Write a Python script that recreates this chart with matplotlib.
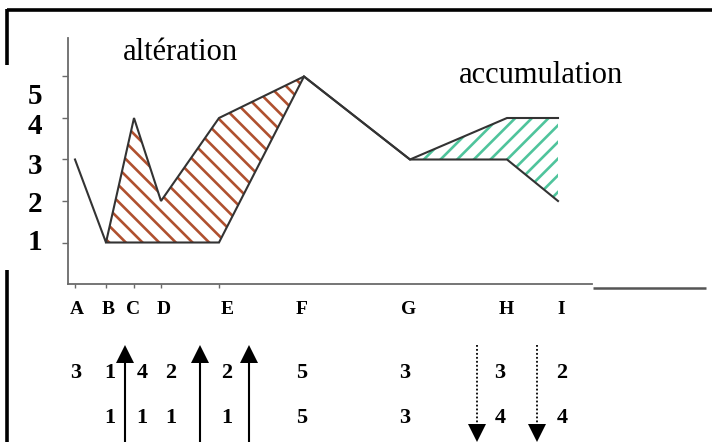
import matplotlib
matplotlib.use("Agg")
import matplotlib.pyplot as plt
import numpy as np

# ---------------- data ----------------
points = ["A", "B", "C", "D", "E", "F", "G", "H", "I"]
distance = [0.7, 3.8, 6.6, 9.3, 15.1, 23.6, 34.2, 43.9, 49.0]   # along profile
profile_initial = [3, 1, 4, 2, 4, 5, 3, 3, 2]                    # drawn upper / first line
profile_final_x = [3.8, 15.1, 23.6, 34.2, 43.9, 49.0]           # B, E, F, G, H, I
profile_final = [1, 1, 5, 3, 4, 4]

# alteration zone (between B and F)
alt_x = [3.8, 6.6, 9.3, 15.1, 23.6]
alt_upper = [1, 4, 2, 4, 5]
alt_lower = [1, 1, 1, 1, 5]
# accumulation zone (between G and I)
acc_x = [34.2, 43.9, 49.0]
acc_upper = [3, 4, 4]
acc_lower = [3, 3, 2]

y_labels = ["5", "4", "3", "2", "1"]
table_row1 = ["3", "1", "4", "2", "2", "5", "3", "3", "2"]
table_row2 = ["", "1", "1", "1", "1", "5", "3", "4", "4"]

# ---------------- figure ----------------
W, H = 712, 442
fig = plt.figure(figsize=(W / 100, H / 100), dpi=100)
fig.patch.set_facecolor("white")
plt.rcParams["hatch.linewidth"] = 1.9

serif = ["Liberation Serif", "DejaVu Serif"]

# plot axes
ax = fig.add_axes([68 / W, 158 / H, 524 / W, 246 / H])
ax.set_xlim(0, 52.4)
ax.set_ylim(0, 246 / 41.5)
ax.patch.set_alpha(0)
for s in ["top", "right"]:
    ax.spines[s].set_visible(False)
for s in ["left", "bottom"]:
    ax.spines[s].set_color("#6a6a6a")
    ax.spines[s].set_linewidth(1.3)
ax.set_yticks([1, 2, 3, 4, 5])
ax.set_yticklabels([])
ax.set_xticks(distance[:5])
ax.set_xticklabels([])
ax.tick_params(axis="y", direction="out", length=4, width=1, color="#6a6a6a")
ax.tick_params(axis="x", direction="out", length=3, width=1, color="#6a6a6a")

ax.fill_between(alt_x, alt_upper, alt_lower, facecolor="none",
                edgecolor="#b0502f", hatch="\\\\", linewidth=0)
ax.fill_between(acc_x, acc_upper, acc_lower, facecolor="none",
                edgecolor="#4fc49c", hatch="//", linewidth=0)

ax.plot(distance, profile_initial, color="#333333", lw=1.5, solid_joinstyle="miter")
ax.plot(profile_final_x, profile_final, color="#333333", lw=1.5, solid_joinstyle="miter")

# overlay axes in pixel coordinates for frame, labels, table and arrows
ov = fig.add_axes([0, 0, 1, 1])
ov.set_xlim(0, W)
ov.set_ylim(H, 0)
ov.axis("off")
ov.patch.set_alpha(0)

# frame
ov.plot([7, W], [10, 10], color="black", lw=2.6, solid_capstyle="butt")
ov.plot([7, 7], [9, 65], color="black", lw=2.6, solid_capstyle="butt")
ov.plot([7, 7], [270, H], color="black", lw=2.6, solid_capstyle="butt")
# extension of the ground line
ov.plot([593, 706], [288, 288], color="#555555", lw=1.8, solid_capstyle="butt")

# titles
ov.text(180, 60, "altération", fontsize=22, family=serif, ha="center", va="baseline")
ov.text(541, 83, "accumulation", fontsize=22, family=serif, ha="center", va="baseline")

# big level labels
for lab, yy in zip(y_labels, [97, 127, 167, 205, 243]):
    ov.text(35, yy, lab, fontsize=21, family=serif, fontweight="bold",
            ha="center", va="center")

# point letters
letter_x = [77, 108, 133, 164, 227, 302, 409, 506, 561]
for lab, xx in zip(points, letter_x):
    ov.text(xx, 310, lab, fontsize=14, family=serif, fontweight="bold",
            ha="center", va="center")

# value table
col_x = [76, 110, 142, 171, 227, 302, 405, 500, 562]
for v1, v2, xx in zip(table_row1, table_row2, col_x):
    ov.text(xx, 373, v1, fontsize=16, family=serif, fontweight="bold",
            ha="center", va="center")
    ov.text(xx, 418, v2, fontsize=16, family=serif, fontweight="bold",
            ha="center", va="center")

# arrows: uplift (solid, up) and subsidence (dotted, down)
for xx in [125, 200, 249]:
    ov.plot([xx, xx], [H, 356], color="black", lw=1.5)
    ov.plot([xx], [354], marker="^", markersize=13, color="black", markeredgewidth=0)
for xx in [477, 537]:
    ov.plot([xx, xx], [345, 428], color="black", lw=1.3, linestyle=(0, (1, 1.2)))
    ov.plot([xx], [433], marker="v", markersize=13, color="black", markeredgewidth=0)

fig.savefig("out.png", dpi=100, facecolor="white")
